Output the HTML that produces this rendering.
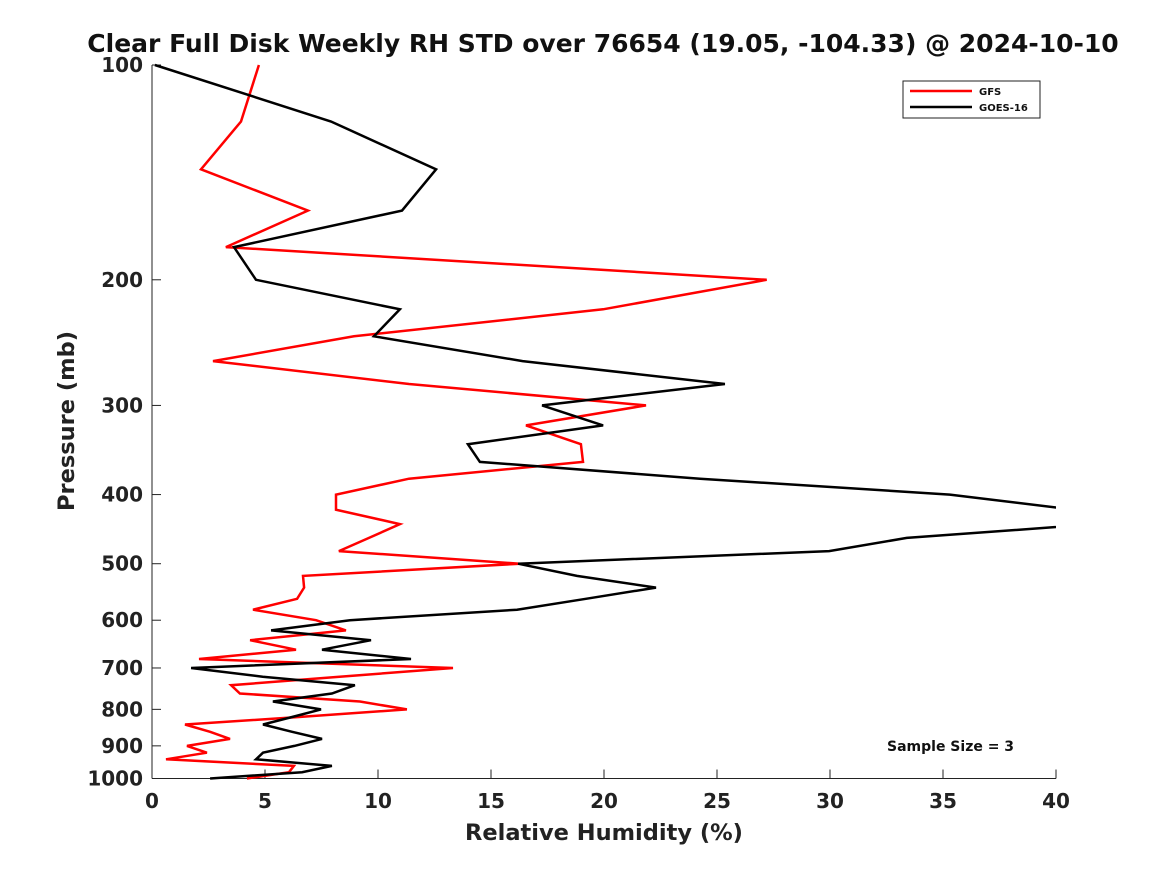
<!DOCTYPE html>
<html><head><meta charset="utf-8"><style>
html,body{margin:0;padding:0;background:#fff;}
svg{display:block;font-family:"DejaVu Sans","Liberation Sans",sans-serif;}
</style></head><body>
<svg id="chart" width="1167" height="875" viewBox="0 0 1167 875" xmlns="http://www.w3.org/2000/svg">
<rect width="1167" height="875" fill="#fff"/>
<text x="603" y="52" text-anchor="middle" font-size="25" font-weight="bold" fill="#111">Clear Full Disk Weekly RH STD over 76654 (19.05, -104.33) @ 2024-10-10</text>
<defs><clipPath id="plotclip"><rect x="152" y="60" width="904" height="722"/></clipPath></defs>
<g id="axes"></g>
<g id="series" clip-path="url(#plotclip)"></g>
<text x="604" y="840" text-anchor="middle" font-size="22.5" font-weight="bold" fill="#222">Relative Humidity (%)</text>
<text transform="translate(74,421) rotate(-90)" text-anchor="middle" font-size="22.5" font-weight="bold" fill="#222">Pressure (mb)</text>
<g>
<rect x="903" y="81" width="137" height="37" fill="#fff" stroke="#222" stroke-width="1"/>
<line x1="910" y1="91" x2="972" y2="91" stroke="#ff0000" stroke-width="2.5"/>
<text x="979" y="95" font-size="10" font-weight="bold" fill="#111">GFS</text>
<line x1="910" y1="107" x2="972" y2="107" stroke="#000" stroke-width="2.5"/>
<text x="979" y="111" font-size="10" font-weight="bold" fill="#111">GOES-16</text>
</g>
<text x="887" y="751" font-size="14" font-weight="bold" fill="#111">Sample Size = 3</text>
</svg>
<script>
const pressures = [100,120,140,160,180,200,220,240,260,280,300,320,340,360,380,400,420,440,460,480,500,520,540,560,580,600,620,640,660,680,700,720,740,760,780,800,820,840,860,880,900,920,940,960,980,1000];
const gfsValues = [4.73,3.94,2.17,6.90,3.27,27.2,19.96,8.94,2.70,11.37,21.86,16.55,18.98,19.07,11.37,8.14,8.14,10.97,9.6,8.27,16.28,6.68,6.73,6.42,4.47,7.26,8.58,4.34,6.37,2.08,13.32,8.3,3.50,3.89,9.2,11.28,6.5,1.46,2.57,3.45,1.55,2.43,0.62,6.28,6.06,4.20];
const goesValues = [0.13,7.92,12.57,11.06,3.63,4.60,10.97,9.82,16.4,25.35,17.26,19.96,13.98,14.51,24.25,35.3,40.8,41.8,33.4,29.96,16.2,18.8,22.3,19.2,16.15,8.76,5.27,9.69,7.52,11.46,1.73,4.9,8.98,7.96,5.35,7.48,6.2,4.91,6.2,7.52,6.3,4.91,4.6,7.96,6.64,2.57];
const xTicks = [0,5,10,15,20,25,30,35,40];
const yTicks = [100,200,300,400,500,600,700,800,900,1000];

const NS = "http://www.w3.org/2000/svg";
const X0 = 152, X1 = 1056, Y0 = 65, Y1 = 778.5;
function xScale(v){ return X0 + (v - 0) / 40 * (X1 - X0); }
function yScale(p){ return Y0 + Math.log10(p / 100) * (Y1 - Y0); }
function mk(tag, attrs){ const e = document.createElementNS(NS, tag); for (const k in attrs) e.setAttribute(k, attrs[k]); return e; }

const axes = document.getElementById('axes');
const xl = mk('line', {x1:X0, y1:Y1, x2:X1, y2:Y1, stroke:'#222', 'stroke-width':1});


axes.appendChild(xl);
const yl = mk('line', {x1:X0, y1:Y0, x2:X0, y2:Y1, stroke:'#222', 'stroke-width':1});


axes.appendChild(yl);

xTicks.forEach(t => {
  const x = xScale(t);
  const tk = mk('line', {x1:x, y1:Y1, x2:x, y2:Y1 - 9, stroke:'#222', 'stroke-width':1});
  
  
  axes.appendChild(tk);
  const tx = mk('text', {x:x, y:808, 'text-anchor':'middle', 'font-size':20, 'font-weight':'bold', fill:'#222'});
  tx.textContent = t;
  
  
  axes.appendChild(tx);
});
yTicks.forEach(t => {
  const y = yScale(t);
  const tk = mk('line', {x1:X0, y1:y, x2:X0 + 9, y2:y, stroke:'#222', 'stroke-width':1});
  
  
  axes.appendChild(tk);
  const tx = mk('text', {x:143, y:y + 7, 'text-anchor':'end', 'font-size':20, 'font-weight':'bold', fill:'#222'});
  tx.textContent = t;
  
  
  axes.appendChild(tx);
});

const series = document.getElementById('series');
function drawLine(vals, color, name){
  const pts = vals.map((v, i) => xScale(v).toFixed(1) + ',' + yScale(pressures[i]).toFixed(1)).join(' ');
  const pl = mk('polyline', {points:pts, fill:'none', stroke:color, 'stroke-width':2.5, 'stroke-linejoin':'miter'});
  
  
  series.appendChild(pl);
}
drawLine(gfsValues, '#ff0000', 'gfs-line');
drawLine(goesValues, '#000000', 'goes16-line');
</script>
</body></html>
